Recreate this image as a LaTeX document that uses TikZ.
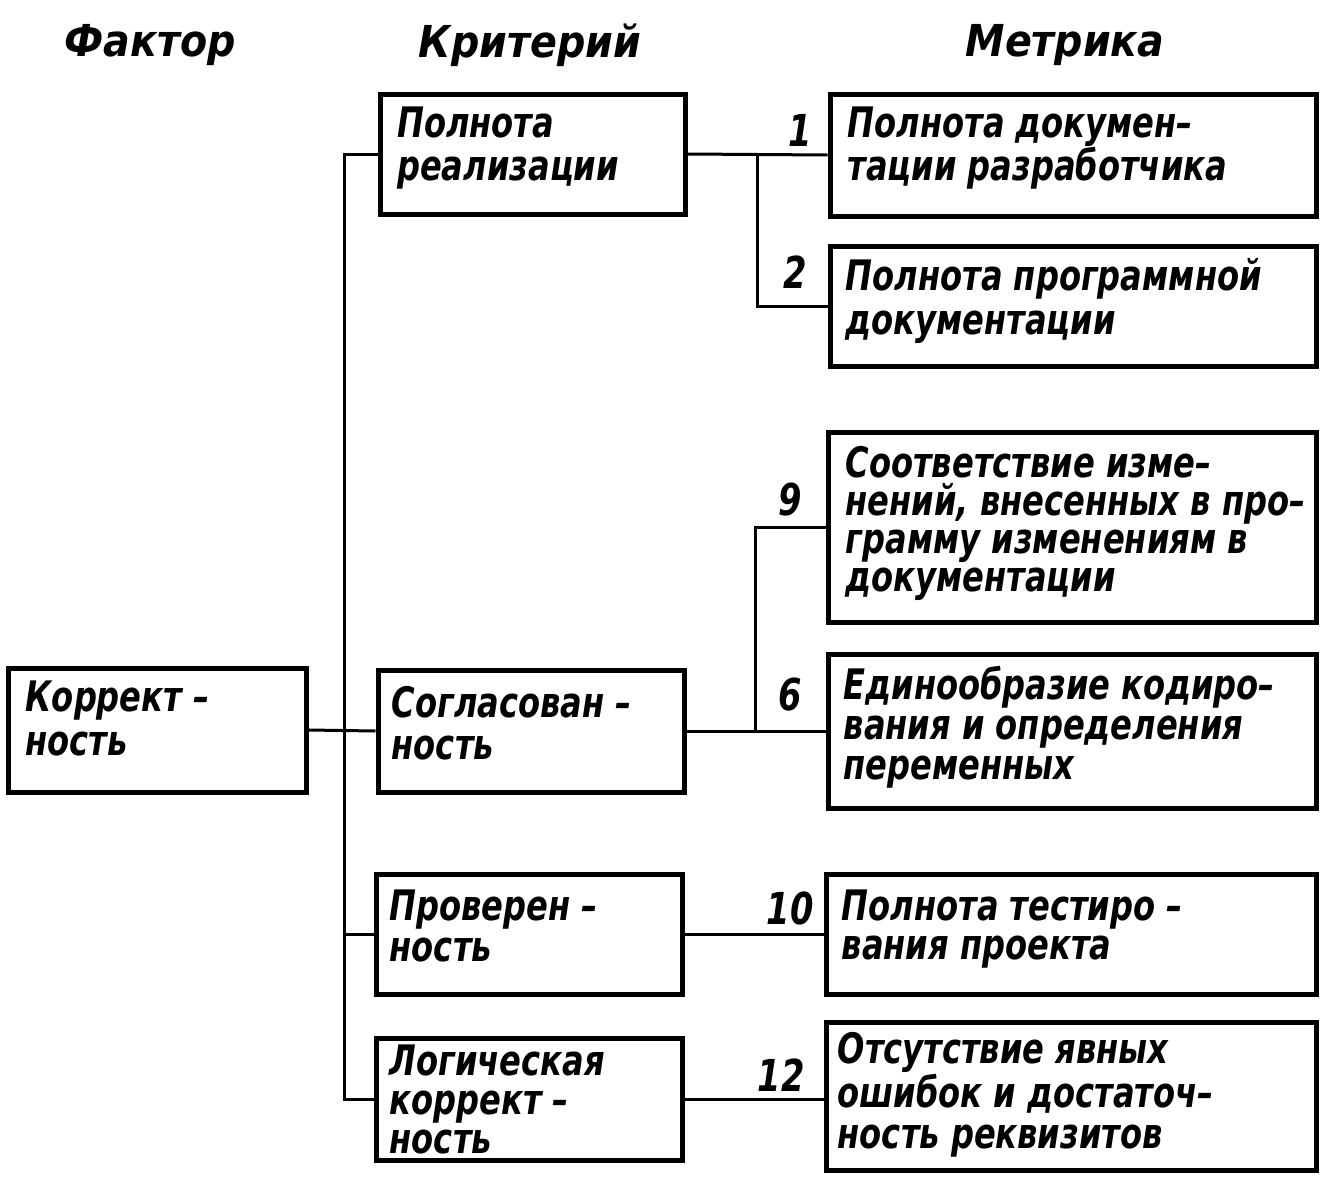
\documentclass[tikz,border=0pt]{standalone}
\usepackage{fontspec}
\newfontfamily\gost{DejaVu Sans Condensed}[FakeStretch=0.85]
\newfontfamily\gosth{DejaVu Sans Condensed}
\begin{document}
\begin{tikzpicture}[x=1pt,y=-1pt,
  box/.style={draw, line width=5pt, inner sep=0pt},
  conn/.style={line width=3pt},
  txt/.style={font=\gost\bfseries\itshape\fontsize{42}{#1}\selectfont, align=left, inner sep=0pt, anchor=north west},
  txt/.default=40,
  num/.style={font=\gost\bfseries\itshape\fontsize{44}{44}\selectfont, inner sep=0pt},
  head/.style={font=\gosth\bfseries\itshape\fontsize{44}{44}\selectfont, inner sep=0pt}]
\useasboundingbox (0,0) rectangle (1328,1189);
% headers
\node[head] (h1) at (150,45) {Фактор};
\node[head] (h2) at (530,45) {Критерий};
\node[head] (h3) at (1065,45) {Метрика};
% boxes
\node[box, minimum width=298, minimum height=124] (fac) at (157,730) {};
\node[box, minimum width=305, minimum height=120] (k1) at (533,154) {};
\node[box, minimum width=306, minimum height=122] (k2) at (531,731) {};
\node[box, minimum width=306, minimum height=120] (k3) at (529,934) {};
\node[box, minimum width=306, minimum height=122] (k4) at (529,1099) {};
\node[box, minimum width=486, minimum height=122] (m1) at (1073,155) {};
\node[box, minimum width=486, minimum height=120] (m2) at (1073,306) {};
\node[box, minimum width=488, minimum height=190] (m9) at (1072,527) {};
\node[box, minimum width=488, minimum height=154] (m6) at (1072,731) {};
\node[box, minimum width=490, minimum height=120] (m10) at (1071,934) {};
\node[box, minimum width=490, minimum height=148] (m12) at (1071,1096) {};
% texts
\node[txt=44] (tfac) at ([xshift=20,yshift=-15]fac.north west) {Коррект –\\ность};
\node[txt=43] (tk1) at ([xshift=19,yshift=-15]k1.north west) {Полнота\\реализации};
\node[txt=42] (tk2) at ([xshift=16,yshift=-19]k2.north west) {Согласован –\\ность};
\node[txt=41] (tk3) at ([xshift=16,yshift=-18]k3.north west) {Проверен –\\ность};
\node[txt=39] (tk4) at ([xshift=16,yshift=-9]k4.north west) {Логическая\\коррект –\\ность};
\node[txt=43] (tm1) at ([xshift=20,yshift=-15]m1.north west) {Полнота докумен–\\тации разработчика};
\node[txt=44] (tm2) at ([xshift=18,yshift=-15]m2.north west) {Полнота программной\\документации};
\node[txt=38] (tm9) at ([xshift=20,yshift=-17]m9.north west) {Соответствие изме–\\нений, внесенных в про–\\грамму изменениям в\\документации};
\node[txt=40] (tm6) at ([xshift=18,yshift=-15]m6.north west) {Единообразие кодиро–\\вания и определения\\переменных};
\node[txt=39] (tm10) at ([xshift=18,yshift=-18]m10.north west) {Полнота тестиро –\\вания проекта};
\node[txt=41] (tm12) at ([xshift=14,yshift=-13]m12.north west) {Отсутствие явных\\ошибок и достаточ–\\ность реквизитов};
% numbers
\node[num] (n1) at (800,130) {1};
\node[num] (n2) at (795,272) {2};
\node[num] (n9) at (790,500) {9};
\node[num] (n6) at (790,695) {6};
\node[num] (n10) at (790,908) {10};
\node[num] (n12) at (781,1075) {12};
% connectors
\coordinate (ttop) at (344,154);
\coordinate (tbot) at (344,1099);
\coordinate (b1) at (757,155);
\coordinate (b2) at (755,731);
\draw[conn] (k1.west) -- (ttop) -- (tbot) -- (k4.west);
\draw[conn] (fac.east) -- (k2.west);
\draw[conn] (k3.west) -- (k3.west -| ttop);
\draw[conn] (k1.east) -- (m1.west);
\draw[conn] (b1) |- (m2.west);
\draw[conn] (k2.east) -- (m6.west);
\draw[conn] (b2) |- (m9.west);
\draw[conn] (k3.east) -- (m10.west);
\draw[conn] (k4.east) -- (k4.east -| m12.west);
\end{tikzpicture}
\end{document}
